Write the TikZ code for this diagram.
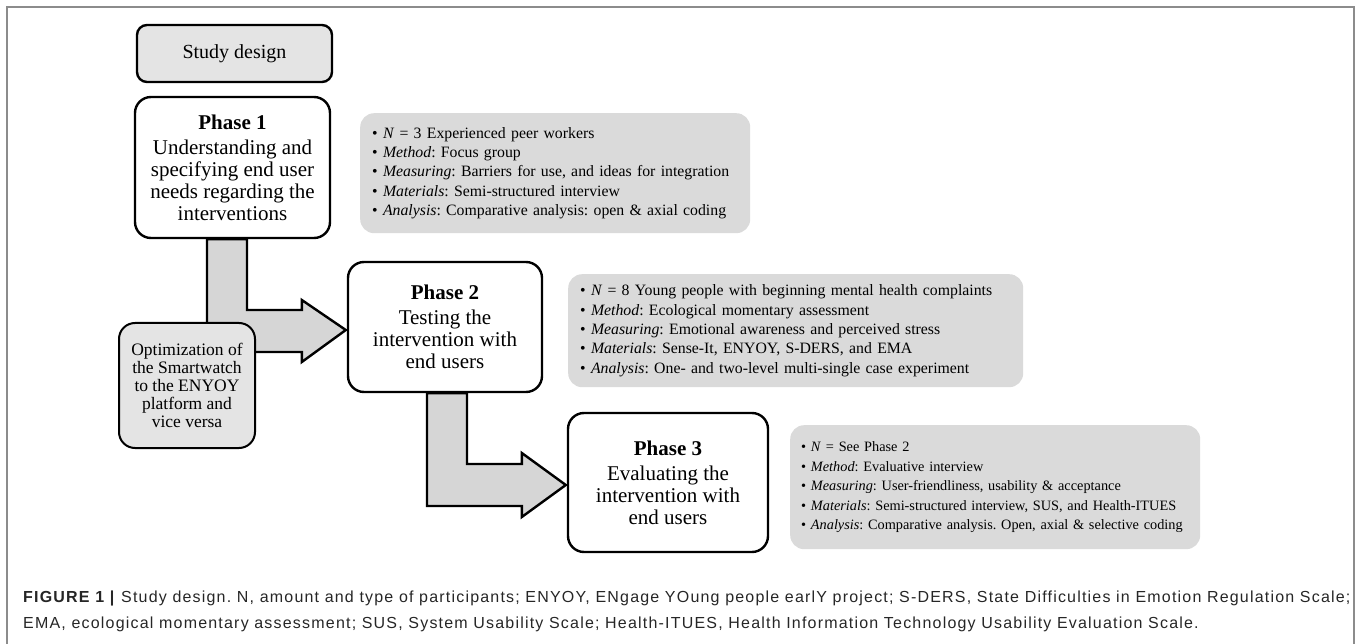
\documentclass[tikz,border=0pt]{standalone}
\usepackage{fontspec}
\setmainfont{Liberation Serif}
\newfontfamily\capfont[LetterSpace=7.5]{Liberation Sans}
\usetikzlibrary{calc}
\definecolor{boxgray}{HTML}{E4E4E4}
\definecolor{arrowgray}{HTML}{D6D6D6}
\definecolor{infogray}{HTML}{DADADA}
\definecolor{framegray}{HTML}{8C8C8C}
\frenchspacing
\begin{document}
\begin{tikzpicture}[x=1pt,y=-1pt,
  phase/.style={draw, line width=2.4pt, rounded corners=16pt, fill=white, align=center,
    font=\fontsize{21}{22}\selectfont, inner sep=0pt},
  info/.style={fill=infogray, rounded corners=14pt, align=left,
    font=\fontsize{15.8}{19.4}\selectfont, inner xsep=12pt, inner ysep=0pt, anchor=north west},
  bigarrow/.style={draw, line width=2.4pt, fill=arrowgray, line join=miter},
  captxt/.style={anchor=base west, inner sep=0pt, text=black!85,
    font=\capfont\fontsize{16}{19}\selectfont}]
\useasboundingbox (0,0) rectangle (1360,644);
% frame
\draw[framegray, line width=2pt] (7,644) -- (7,7) -- (1354,7) -- (1354,644);

\node[draw, line width=2.4pt, rounded corners=10pt, fill=boxgray, minimum width=195pt,
  minimum height=57pt, font=\fontsize{20}{22}\selectfont] (sd) at (234.5,53.5) {Study design};

\node[phase, minimum width=195pt, minimum height=141pt] (p1) at (232.5,167.5)
  {{\bfseries Phase 1}\\[3pt] Understanding and\\ specifying end user\\ needs regarding the\\ interventions};
\node[phase, minimum width=194pt, minimum height=130pt] (p2) at (445,327)
  {{\bfseries Phase 2}\\[3pt] Testing the\\ intervention with\\ end users};
\node[phase, minimum width=200pt, minimum height=139pt] (p3) at (668,482.5)
  {{\bfseries Phase 3}\\[3pt] Evaluating the\\ intervention with\\ end users};

\node[info, text width=366pt, minimum height=120pt] (i1) at (360,113)
  {• \textit{N} = 3 Experienced peer workers\\
   • \textit{Method}: Focus group\\
   • \textit{Measuring}: Barriers for use, and ideas for integration\\
   • \textit{Materials}: Semi-structured interview\\
   • \textit{Analysis}: Comparative analysis: open \& axial coding};
\node[info, text width=431pt, minimum height=113pt] (i2) at (568,274)
  {• \textit{N} = 8 Young people with beginning mental health complaints\\
   • \textit{Method}: Ecological momentary assessment\\
   • \textit{Measuring}: Emotional awareness and perceived stress\\
   • \textit{Materials}: Sense-It, ENYOY, S-DERS, and EMA\\
   • \textit{Analysis}: One- and two-level multi-single case experiment};
\node[info, text width=388pt, minimum height=124pt, inner xsep=11pt,
  font=\fontsize{14.3}{19.5}\selectfont] (i3) at (790,425)
  {• \textit{N} = See Phase 2\\
   • \textit{Method}: Evaluative interview\\
   • \textit{Measuring}: User-friendliness, usability \& acceptance\\
   • \textit{Materials}: Semi-structured interview, SUS, and Health-ITUES\\
   • \textit{Analysis}: Comparative analysis. Open, axial \& selective coding};

% big arrows
\draw[bigarrow] ($(p1.south)+(-25.5,0)$) -- ($(p1.south)+(14.5,0)$)
  |- ($(p2.west)+(-45,-17)$) -- ($(p2.west)+(-45,-27)$) -- ($(p2.west)+(-1,3)$)
  -- ($(p2.west)+(-45,35)$) -- ($(p2.west)+(-45,25)$) -| ($(p1.south)+(-25.5,0)$) -- cycle;
\draw[bigarrow] ($(p2.south)+(-18,0)$) -- ($(p2.south)+(22,0)$)
  |- ($(p3.west)+(-45,-18.5)$) -- ($(p3.west)+(-45,-29.5)$) -- ($(p3.west)+(-1,2.5)$)
  -- ($(p3.west)+(-45,34.5)$) -- ($(p3.west)+(-45,23.5)$) -| ($(p2.south)+(-18,0)$) -- cycle;

\node[draw, line width=2pt, rounded corners=16pt, fill=boxgray, minimum width=136pt,
  minimum height=125pt, align=center, inner sep=0pt, font=\fontsize{17.5}{18}\selectfont] (opt) at (187,385.5)
  {Optimization of\\ the Smartwatch\\ to the ENYOY\\ platform and\\ vice versa};

\node[captxt] (cap1) at (23,602) {\textbf{FIGURE 1 |} Study design. N, amount and type of participants; ENYOY, ENgage YOung people earlY project; S-DERS, State Difficulties in Emotion Regulation Scale;};
\node[captxt] (cap2) at (23,628) {EMA, ecological momentary assessment; SUS, System Usability Scale; Health-ITUES, Health Information Technology Usability Evaluation Scale.};
\end{tikzpicture}
\end{document}
